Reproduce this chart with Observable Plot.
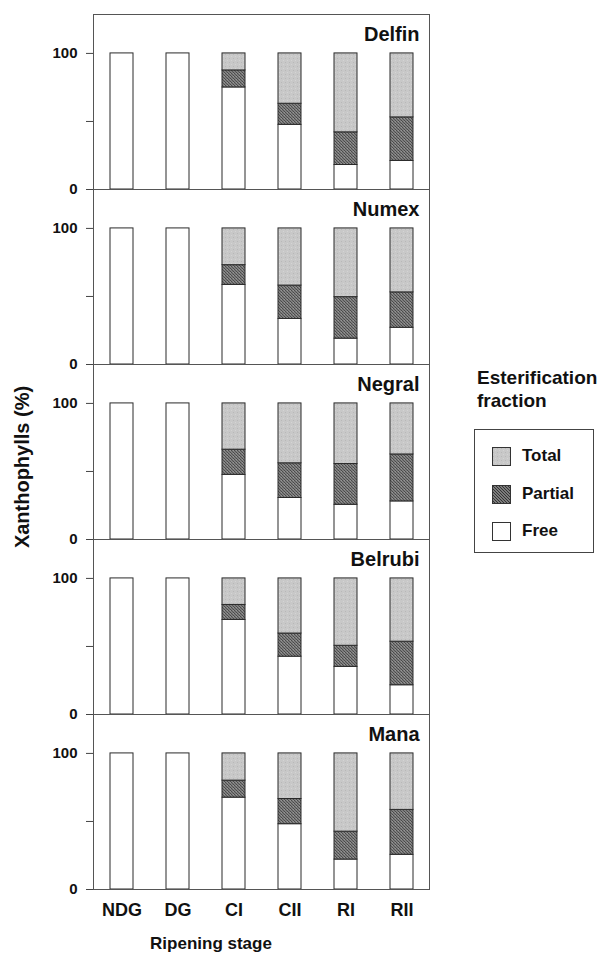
<!DOCTYPE html>
<html>
<head>
<meta charset="utf-8">
<script src="https://cdn.jsdelivr.net/npm/d3@7"></script>
<script src="https://cdn.jsdelivr.net/npm/@observablehq/plot@0.6"></script>
<style>
  html, body { margin: 0; padding: 0; background: white; }
  body { font-family: "Liberation Sans", Arial, sans-serif; color: #111; }
  #wrap { position: relative; width: 609px; height: 957px; }
  .ylab { position: absolute; left: 22px; top: 467px; transform: translate(-50%, -50%) rotate(-90deg);
          font-size: 20px; font-weight: bold; white-space: nowrap; }
  .legtitle { position: absolute; left: 477px; top: 366px; font-size: 19px; font-weight: bold; line-height: 23px; }
  .legbox { position: absolute; left: 474px; top: 429px; width: 120px; height: 124px; box-sizing: border-box;
            border: 1px solid #444; }
  .item { position: absolute; left: 17px; height: 18px; }
  .item svg { position: absolute; left: 0; top: 0; }
  .item span { position: absolute; left: 30px; top: -1px; font-size: 17px; font-weight: bold; line-height: 20px; white-space: nowrap; }
</style>
</head>
<body>
<svg width="0" height="0" style="position:absolute">
  <defs>
    <pattern id="partialPat" patternUnits="userSpaceOnUse" width="3" height="3">
      <rect width="3" height="3" fill="#7e7e7e"></rect>
      <rect x="0" y="0" width="1" height="1" fill="#4a4a4a"></rect>
      <rect x="1" y="1" width="1" height="1" fill="#555"></rect>
      <rect x="2" y="2" width="1" height="1" fill="#4a4a4a"></rect>
      <rect x="2" y="0" width="1" height="1" fill="#959595"></rect>
    </pattern>
    <pattern id="partialHatch" patternUnits="userSpaceOnUse" width="3" height="3">
      <rect width="3" height="3" fill="#9a9a9a"></rect>
      <path d="M-1,-1 L4,4 M2,-1 L4,1 M-1,2 L1,4" stroke="#2e2e2e" stroke-width="1.1"></path>
    </pattern>
    <pattern id="totalPat" patternUnits="userSpaceOnUse" width="4" height="4">
      <rect width="4" height="4" fill="#c8c8c8"></rect>
      <rect x="1" y="1" width="1" height="1" fill="#b8b8b8"></rect>
      <rect x="3" y="3" width="1" height="1" fill="#d4d4d4"></rect>
    </pattern>
  </defs>
</svg>
<div id="wrap">
  <div id="chart"></div>
  <div class="ylab">Xanthophylls (%)</div>
  <div class="legtitle">Esterification<br>fraction</div>
  <div class="legbox" id="legend"></div>
</div>
<script>
const stages = ["NDG", "DG", "CI", "CII", "RI", "RII"];
const varieties = ["Delfin", "Numex", "Negral", "Belrubi", "Mana"];
const fractions = ["Free", "Partial", "Total"];

// percent of xanthophylls per fraction, rows follow `varieties`, columns follow `stages`
const freeValues = [
  [100, 100, 75, 47.5, 18, 21],
  [100, 100, 58.5, 33.5, 19, 27],
  [100, 100, 47.5, 30.5, 25.5, 28],
  [100, 100, 69.5, 42.5, 35, 21.5],
  [100, 100, 67.5, 48, 22, 25.5]
];
const partialValues = [
  [0, 0, 12.5, 15.5, 24, 32],
  [0, 0, 14.5, 24.5, 30.5, 26],
  [0, 0, 18.5, 25.5, 30, 34.5],
  [0, 0, 11, 17, 15.5, 32],
  [0, 0, 12.5, 18.5, 20.5, 33]
];
const totalValues = [
  [0, 0, 12.5, 37, 58, 47],
  [0, 0, 27, 42, 50.5, 47],
  [0, 0, 34, 44, 44.5, 37.5],
  [0, 0, 19.5, 40.5, 49.5, 46.5],
  [0, 0, 20, 33.5, 57.5, 41.5]
];
const yTicks = [0, 50, 100];
const yTickLabels = ["0", "", "100"];

const seriesByFraction = [freeValues, partialValues, totalValues];
const rows = [];
varieties.forEach((variety, i) => {
  stages.forEach((stage, j) => {
    fractions.forEach((fraction, k) => {
      const value = seriesByFraction[k][i][j];
      if (value > 0) rows.push({variety, stage, fraction, value});
    });
  });
});

const chart = Plot.plot({
  width: 609,
  height: 957,
  marginTop: 13,
  marginBottom: 67,
  marginLeft: 93,
  marginRight: 180,
  style: {fontFamily: "'Liberation Sans', Arial, sans-serif", color: "#111", background: "white"},
  x: {domain: stages, paddingInner: 0.59, paddingOuter: 0.295, label: null},
  y: {domain: [0, 128.6]},
  fy: {domain: varieties, padding: 0, axis: null, label: null},
  color: {domain: fractions, range: ["white", "url(#partialPat)", "url(#totalPat)"]},
  marks: [
    Plot.barY(rows, {x: "stage", y: "value", fy: "variety", fill: "fraction", stroke: "#2a2a2a", strokeWidth: 1}),
    Plot.frame({stroke: "#555"}),
    Plot.axisY({ticks: yTicks, tickSize: 7, tickPadding: 9, tickFormat: d => yTickLabels[yTicks.indexOf(d)],
                fontSize: 15, fontWeight: "bold", label: null, stroke: "#444"}),
    Plot.axisX({tickSize: 0, tickPadding: 14, fontSize: 18, fontWeight: "bold", label: null}),
    Plot.text(varieties, {fy: d => d, text: d => d, frameAnchor: "top-right", dx: -10, dy: 12,
                          fontSize: 20, fontWeight: "bold", fill: "#111"})
  ]
});
document.getElementById("chart").appendChild(chart);

// x axis title
const xt = document.createElement("div");
xt.textContent = "Ripening stage";
xt.style.cssText = "position:absolute;left:211px;top:944px;transform:translate(-50%,-50%);font-size:17px;font-weight:bold;white-space:nowrap;";
document.getElementById("wrap").appendChild(xt);

// legend
const legendOrder = ["Total", "Partial", "Free"];
const legendFill = {Free: "white", Partial: "url(#partialHatch)", Total: "url(#totalPat)"};
const legend = document.getElementById("legend");
legendOrder.forEach((name, i) => {
  const item = document.createElement("div");
  item.className = "item";
  item.style.top = (17 + i * 37.5) + "px";
  item.innerHTML = `<svg width="19" height="19"><rect x="0.5" y="0.5" width="18" height="18" fill="${legendFill[name]}" stroke="#333"></rect></svg><span>${name}</span>`;
  legend.appendChild(item);
});
</script>
</body>
</html>
